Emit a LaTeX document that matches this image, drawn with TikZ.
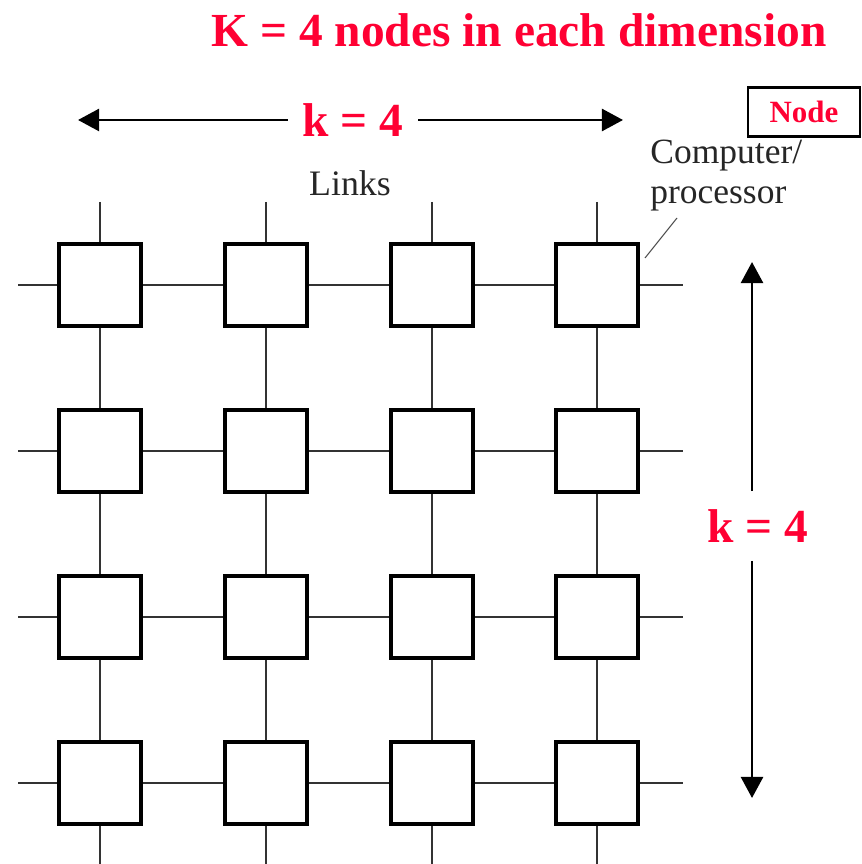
\documentclass[tikz,border=0pt]{standalone}
\usepackage{fontspec}
\setmainfont{Liberation Serif}
\usepackage{xcolor}
\usetikzlibrary{arrows.meta}
\definecolor{kred}{RGB}{255,0,51}

\begin{document}
\begin{tikzpicture}[x=0.02cm, y=-0.02cm,
  box/.style={draw, line width=2.3pt, fill=white, inner sep=0pt, minimum size=1.64cm},
  link/.style={color=black!80, line width=0.85pt},
  redtxt/.style={text=kred, font=\fontsize{27}{30}\selectfont\bfseries},
  dimarrow/.style={line width=1.6pt, -{Triangle[length=12pt, width=12.5pt]}}]
\useasboundingbox (0,0) rectangle (861,864);
% free ends of the links
\coordinate (l1) at (18,285);
\coordinate (l2) at (18,451);
\coordinate (l3) at (18,617);
\coordinate (l4) at (18,783);
\coordinate (r1) at (683,285);
\coordinate (r2) at (683,451);
\coordinate (r3) at (683,617);
\coordinate (r4) at (683,783);
\coordinate (t1) at (100,202);
\coordinate (t2) at (266,202);
\coordinate (t3) at (432,202);
\coordinate (t4) at (597,202);
\coordinate (b1) at (100,864);
\coordinate (b2) at (266,864);
\coordinate (b3) at (432,864);
\coordinate (b4) at (597,864);
% processors
\node[box] (11) at (100,285) {};
\node[box] (12) at (266,285) {};
\node[box] (13) at (432,285) {};
\node[box] (14) at (597,285) {};
\node[box] (21) at (100,451) {};
\node[box] (22) at (266,451) {};
\node[box] (23) at (432,451) {};
\node[box] (24) at (597,451) {};
\node[box] (31) at (100,617) {};
\node[box] (32) at (266,617) {};
\node[box] (33) at (432,617) {};
\node[box] (34) at (597,617) {};
\node[box] (41) at (100,783) {};
\node[box] (42) at (266,783) {};
\node[box] (43) at (432,783) {};
\node[box] (44) at (597,783) {};
% rows
\draw[link] (l1) -- (11) -- (12) -- (13) -- (14) -- (r1);
\draw[link] (l2) -- (21) -- (22) -- (23) -- (24) -- (r2);
\draw[link] (l3) -- (31) -- (32) -- (33) -- (34) -- (r3);
\draw[link] (l4) -- (41) -- (42) -- (43) -- (44) -- (r4);
% columns
\draw[link] (t1) -- (11) -- (21) -- (31) -- (41) -- (b1);
\draw[link] (t2) -- (12) -- (22) -- (32) -- (42) -- (b2);
\draw[link] (t3) -- (13) -- (23) -- (33) -- (43) -- (b3);
\draw[link] (t4) -- (14) -- (24) -- (34) -- (44) -- (b4);
% labels
\node[redtxt, anchor=base] (title) at (519,47) {K = 4 nodes in each dimension};
\node[redtxt, inner xsep=0.29cm] (k4h) at (353,120) {k = 4};
\coordinate (al) at (78,120);
\coordinate (ar) at (623,120);
\draw[dimarrow] (k4h) -- (al);
\draw[dimarrow] (k4h) -- (ar);
\node[redtxt, inner ysep=0.36cm] (k4v) at (758,526) {k = 4};
\coordinate (at) at (752,262);
\coordinate (ab) at (752,798);
\draw[dimarrow] (k4v.north -| at) -- (at);
\draw[dimarrow] (k4v.south -| ab) -- (ab);
\node[anchor=base, font=\fontsize{20.4}{24}\selectfont, text=black!85] (links) at (350,196) {Links};
\node[anchor=north west, inner sep=0pt, align=left, font=\fontsize{20.2}{22.7}\selectfont, text=black!85] (cpu) at (650,140) {Computer/\\processor};
\coordinate (ld1) at (677,218);
\coordinate (ld2) at (645,258);
\draw[color=black!70, line width=0.6pt] (ld1) -- (ld2);
\node[draw, line width=1.4pt, minimum width=2.24cm, minimum height=0.98cm, text=kred, font=\fontsize{17.6}{20}\selectfont\bfseries] (nd) at (804,112) {Node};
\end{tikzpicture}
\end{document}
